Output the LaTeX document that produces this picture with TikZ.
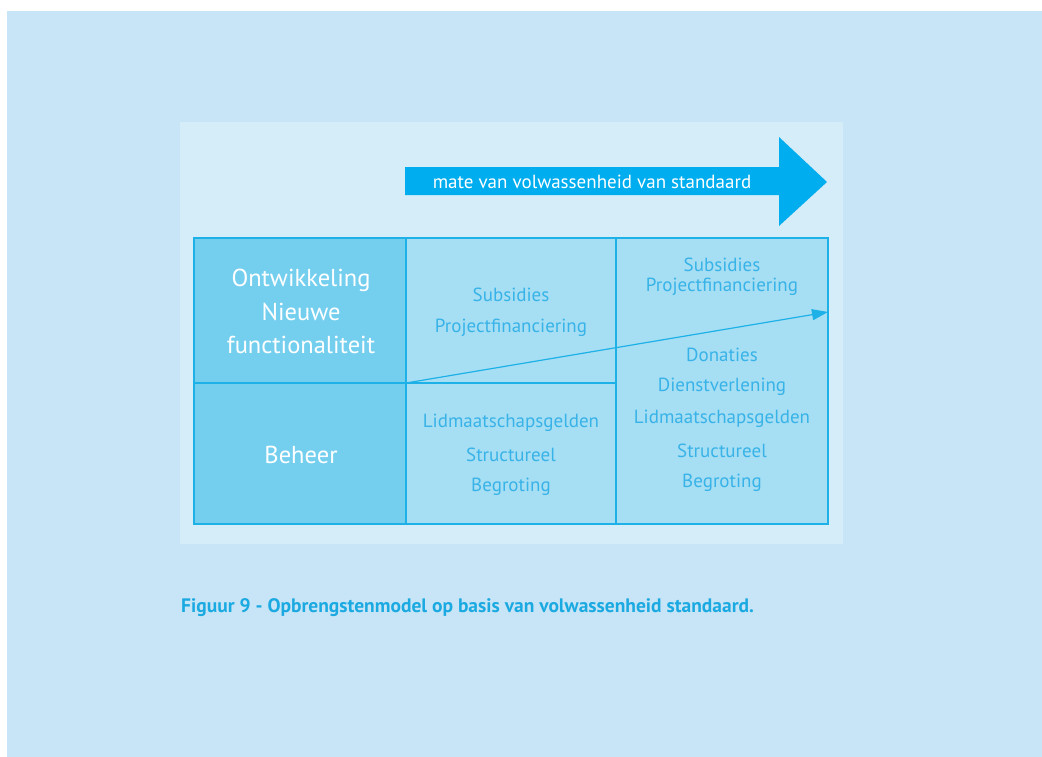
\documentclass[tikz,border=0pt]{standalone}
\usepackage{fontspec}
\setmainfont{PT Sans}
\usetikzlibrary{arrows.meta}
\definecolor{outerbg}{HTML}{C7E5F6}
\definecolor{panelbg}{HTML}{D5EDF9}
\definecolor{leftc}{HTML}{74CFEF}
\definecolor{cellc}{HTML}{A6DEF4}
\definecolor{gridc}{HTML}{1DB1E7}
\definecolor{arrowc}{HTML}{00AEEF}
\definecolor{txtc}{HTML}{38B3E7}
\definecolor{capc}{HTML}{1BA9E1}
\tikzset{
  cell/.style={draw=gridc, line width=1.3pt, anchor=north west, inner sep=0pt, outer sep=0pt},
  headtxt/.style={text=white, font=\fontsize{24.5}{28}\selectfont, inner sep=0pt},
  celltxt/.style={text=txtc, font=\fontsize{19}{22}\selectfont, inner sep=0pt},
  arrowtxt/.style={text=white, font=\fontsize{19}{22}\selectfont, inner sep=0pt},
  captxt/.style={text=capc, font=\bfseries\fontsize{19.5}{22}\selectfont, inner sep=0pt, anchor=west},
  trend/.style={draw=gridc, line width=1.2pt, -{Triangle[length=16pt,width=11pt]}}
}
\begin{document}
\begin{tikzpicture}[x=1pt,y=-1pt]
\useasboundingbox (0,0) rectangle (1042,756);
\fill[white] (0,0) rectangle (1042,756);
\fill[outerbg] (7,11) rectangle (1043,757);
\fill[panelbg] (180,122) rectangle (843,544);
% big arrow
\fill[arrowc] (405,167) -- (779,167) -- (779,137) -- (827,182) -- (779,226) -- (779,195) -- (405,195) -- cycle;
\node[arrowtxt] (arrtxt) at (592,182) {mate van volwassenheid van standaard};
% cells
\node[cell, fill=leftc, minimum width=212, minimum height=145] (a1) at (194,238) {};
\node[cell, fill=leftc, minimum width=212, minimum height=141] (a2) at (194,383) {};
\node[cell, fill=cellc, minimum width=210, minimum height=145] (b1) at (406,238) {};
\node[cell, fill=cellc, minimum width=210, minimum height=141] (b2) at (406,383) {};
\node[cell, fill=cellc, minimum width=212, minimum height=286] (c) at (616,238) {};
% row labels
\node[headtxt] (t1) at (301,280) {Ontwikkeling};
\node[headtxt] (t2) at (301,312) {Nieuwe};
\node[headtxt] (t3) at (301,345) {functionaliteit};
\node[headtxt] (t4) at (301,455) {Beheer};
% column 2
\node[celltxt] (b1a) at (511,295) {Subsidies};
\node[celltxt] (b1b) at (511,328) {Projectfinanciering};
\node[celltxt] (b2a) at (511,423) {Lidmaatschapsgelden};
\node[celltxt] (b2b) at (511,455) {Structureel};
\node[celltxt] (b2c) at (511,487) {Begroting};
% column 3
\node[celltxt] (c1) at (722,265) {Subsidies};
\node[celltxt] (c2) at (722,287) {Projectfinanciering};
\node[celltxt] (c3) at (722,355) {Donaties};
\node[celltxt] (c4) at (722,387) {Dienstverlening};
\node[celltxt] (c5) at (722,419) {Lidmaatschapsgelden};
\node[celltxt] (c6) at (722,451) {Structureel};
\node[celltxt] (c7) at (722,483) {Begroting};
% trend arrow
\coordinate (ts) at (406,383);
\coordinate (te) at (828,312);
\draw[trend] (ts) -- (te);
% caption
\node[captxt] (cap) at (181,608) {Figuur 9 - Opbrengstenmodel op basis van volwassenheid standaard.};
\end{tikzpicture}
\end{document}
